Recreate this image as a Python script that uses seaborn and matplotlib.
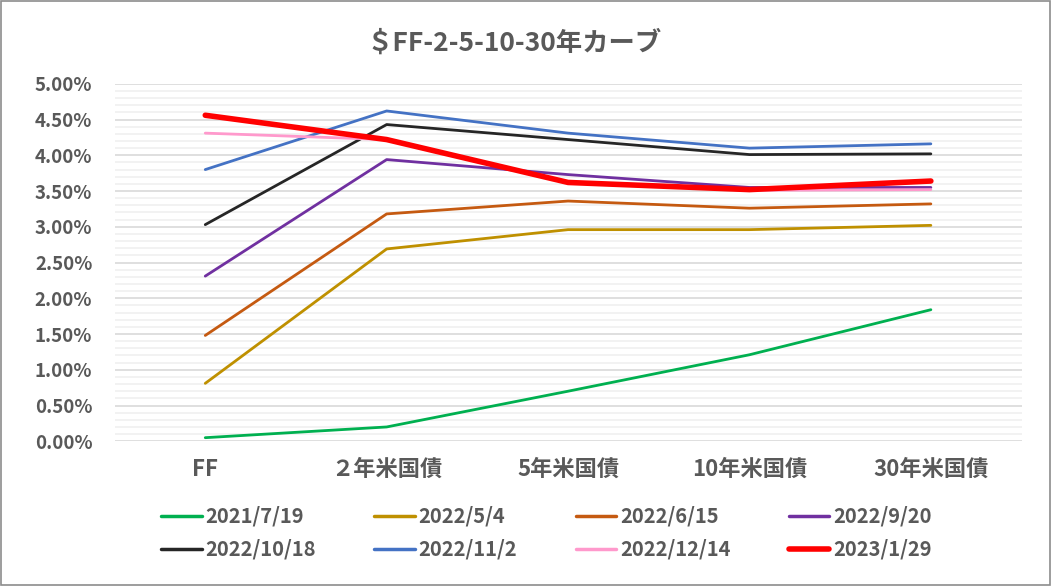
import numpy as np
import pandas as pd
import seaborn as sns
import matplotlib as mpl
import matplotlib.pyplot as plt
from matplotlib.ticker import MultipleLocator, PercentFormatter

mpl.use('Agg')

tenors = ['FF', '２年米国債', '5年米国債', '10年米国債', '30年米国債']
dates = ['2021/7/19', '2022/5/4', '2022/6/15', '2022/9/20',
         '2022/10/18', '2022/11/2', '2022/12/14', '2023/1/29']

r_20210719 = [0.05, 0.20, 0.70, 1.21, 1.84]
r_20220504 = [0.81, 2.69, 2.96, 2.96, 3.02]
r_20220615 = [1.48, 3.18, 3.36, 3.26, 3.32]
r_20220920 = [2.31, 3.94, 3.73, 3.55, 3.55]
r_20221018 = [3.03, 4.43, 4.22, 4.01, 4.02]
r_20221102 = [3.80, 4.62, 4.31, 4.10, 4.16]
r_20221214 = [4.31, 4.22, 3.62, 3.51, 3.52]
r_20230129 = [4.56, 4.22, 3.62, 3.52, 3.64]

colors = ['#00b050', '#bf9000', '#c55a11', '#7030a0',
          '#262626', '#4472c4', '#ff99cc', '#ff0000']

series = [r_20210719, r_20220504, r_20220615, r_20220920,
          r_20221018, r_20221102, r_20221214, r_20230129]

rows = []
for d, vals in zip(dates, series):
    for t, v in zip(tenors, vals):
        rows.append({'tenor': t, 'rate': v / 100.0, 'date': d})
df = pd.DataFrame(rows)

sns.set_style('white')
plt.rcParams['font.family'] = ['Noto Sans CJK JP', 'DejaVu Sans']

fig = plt.figure(figsize=(10.51, 5.86), dpi=100)
ax = fig.add_axes([0.109, 0.247, 0.863, 0.610])

sns.lineplot(data=df, x='tenor', y='rate', hue='date', hue_order=dates,
             palette=colors, sort=False, linewidth=2, ax=ax, legend=True)

for line in ax.lines:
    if tuple(mpl.colors.to_rgb(line.get_color())) == (1.0, 0.0, 0.0):
        line.set_linewidth(4)

ax.set_xlim(-0.5, 4.5)
ax.set_ylim(0, 0.05)
ax.yaxis.set_major_locator(MultipleLocator(0.005))
ax.yaxis.set_minor_locator(MultipleLocator(0.001))
ax.yaxis.set_major_formatter(PercentFormatter(1.0, decimals=2))
ax.grid(axis='y', which='major', color='#d9d9d9', linewidth=1.2)
ax.grid(axis='y', which='minor', color='#f0f0f0', linewidth=1.2)
ax.set_axisbelow(True)
for s in ax.spines.values():
    s.set_visible(False)
ax.tick_params(axis='both', which='both', length=0)
ax.tick_params(axis='y', pad=16, labelsize=13.5, labelcolor='#595959')
ax.tick_params(axis='x', pad=12, labelsize=16, labelcolor='#595959')
for lab in ax.get_yticklabels() + ax.get_xticklabels():
    lab.set_fontweight('bold')
ax.set_xlabel('')
ax.set_ylabel('')

handles, labels = ax.get_legend_handles_labels()
ax.get_legend().remove()
for h in handles:
    h.set_linewidth(4 if h.get_label() == '2023/1/29' else 2.5)
# legend fills by column, so reorder to read row by row
order = [0, 4, 1, 5, 2, 6, 3, 7]
handles = [handles[i] for i in order]
labels = [labels[i] for i in order]
leg = fig.legend(handles, labels, loc='center', bbox_to_anchor=(0.52, 0.091),
                 ncol=4, frameon=False, fontsize=14.5, handlelength=2.0,
                 handletextpad=0.2, columnspacing=2.9, labelspacing=0.6)
for t in leg.get_texts():
    t.set_color('#595959')
    t.set_fontweight('bold')

fig.text(0.489, 0.927, '＄FF-2-5-10-30年カーブ', ha='center', va='center',
         fontsize=19, fontweight='bold', color='#595959')

fig.patches.append(mpl.patches.Rectangle((0.001, 0.001), 0.998, 0.997,
                   transform=fig.transFigure, fill=False,
                   edgecolor='#8c8c8c', linewidth=1.2))

fig.savefig('out.png', dpi=100)
plt.close(fig)
